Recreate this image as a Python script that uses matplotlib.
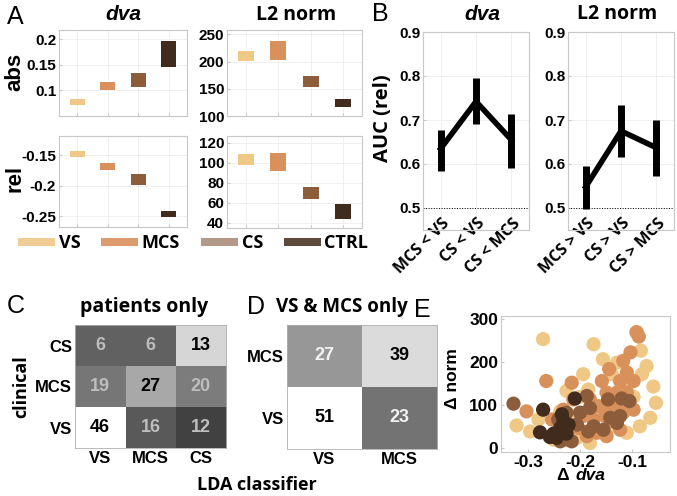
import numpy as np
import matplotlib
matplotlib.use('Agg')
import matplotlib.pyplot as plt
from matplotlib.lines import Line2D
from matplotlib.ticker import FormatStrFormatter
from matplotlib.transforms import ScaledTranslation

W, H = 677, 496
OPEN = ['Open Sans', 'DejaVu Sans']

groups        = ['VS', 'MCS', 'CS', 'CTRL']
group_colors  = ['#F0C885', '#D9915B', '#8D5C3B', '#402B1D']
legend_colors = ['#F1CD95', '#DE9B6D', '#B39A88', '#5F4B3E']

# panel A (mean +/- sem per group)
dva_abs     = [0.078, 0.108, 0.120, 0.171]
dva_abs_err = [0.006, 0.008, 0.014, 0.025]
l2_abs      = [210, 219.5, 163, 123.5]
l2_abs_err  = [9, 17.5, 10, 7.5]
dva_rel     = [-0.147, -0.168, -0.189, -0.246]
dva_rel_err = [0.005, 0.006, 0.009, 0.005]
l2_rel      = [103.5, 101, 70, 51.5]
l2_rel_err  = [5.5, 9, 6, 7.5]

# panel B (AUC with interval)
pairs_dva  = ['MCS < VS', 'CS < VS', 'CS < MCS']
auc_dva    = [0.635, 0.742, 0.655]
auc_dva_lo = [0.585, 0.690, 0.590]
auc_dva_hi = [0.678, 0.795, 0.713]
pairs_l2   = ['MCS > VS', 'CS > VS', 'CS > MCS']
auc_l2     = [0.548, 0.675, 0.637]
auc_l2_lo  = [0.497, 0.615, 0.572]
auc_l2_hi  = [0.595, 0.735, 0.700]

# panels C / D (rows = clinical, cols = LDA classifier)
labels3 = ['VS', 'MCS', 'CS']
conf_patients = [[46, 16, 12],
                 [19, 27, 20],
                 [6, 6, 13]]
labels2 = ['VS', 'MCS']
conf_vs_mcs = [[51, 23],
               [27, 39]]

# panel E (delta dva, delta norm)
vs_x = [-0.271, -0.174, -0.092, -0.083, -0.156, -0.129, -0.139, -0.194, -0.081, -0.059,
        -0.054, -0.065, -0.085, -0.322, -0.296, -0.280, -0.226, -0.184, -0.200, -0.238,
        -0.181, -0.110, -0.149, -0.123, -0.097, -0.110, -0.216, -0.162, -0.206, -0.251, -0.072]
vs_y = [254, 242, 270, 227, 207, 199, 172, 172, 172, 143,
        105, 70, 50, 52, 38, 66, 133, 136, 119, 85,
        11, 35, 38, 89, 119, 143, 74, 97, 23, 19, 191]
mcs_x = [-0.265, -0.216, -0.303, -0.091, -0.087, -0.103, -0.117, -0.110, -0.144, -0.158,
         -0.123, -0.097, -0.181, -0.149, -0.129, -0.110, -0.165, -0.142, -0.117, -0.097,
         -0.174, -0.136, -0.123, -0.149, -0.187, -0.232, -0.254, -0.213, -0.194, -0.168,
         -0.226, -0.203, -0.133, -0.152]
mcs_y = [156, 152, 85, 270, 260, 223, 203, 176, 184, 156,
         156, 156, 113, 129, 129, 129, 97, 89, 82, 89,
         66, 62, 42, 27, 27, 89, 66, 113, 74, 35,
         19, 46, 105, 74]
cs_x = [-0.328, -0.242, -0.226, -0.200, -0.181, -0.174, -0.184, -0.216, -0.155, -0.146,
        -0.123, -0.142, -0.120, -0.105, -0.187, -0.238, -0.206, -0.129]
cs_y = [103, 66, 82, 82, 93, 50, 38, 15, 42, 113,
        74, 70, 115, 109, 121, 15, 54, 58]
ctrl_x = [-0.271, -0.210, -0.235, -0.232, -0.238, -0.222, -0.277, -0.251, -0.245, -0.226,
          -0.258, -0.235]
ctrl_y = [89, 115, 78, 62, 46, 54, 36, 33, 23, 33, 25, 38]

plt.rcParams['font.family'] = ['Liberation Sans', 'DejaVu Sans']
plt.rcParams['font.weight'] = 'bold'

fig = plt.figure(figsize=(W / 100, H / 100), dpi=100)


def box(l, t, r, b):
    return [l / W, 1 - b / H, (r - l) / W, (b - t) / H]


def ftext(x, y, s, **kw):
    kw.setdefault('ha', 'center')
    kw.setdefault('va', 'center')
    fig.text(x / W, 1 - y / H, s, **kw)


def light_axes(ax, size=10.5):
    for s in ax.spines.values():
        s.set_color('#c8c8c8')
        s.set_linewidth(0.8)
    ax.grid(True, color='#ececec', lw=0.6)
    ax.set_axisbelow(True)
    ax.tick_params(direction='in', length=2, color='#c8c8c8', labelsize=size, pad=2)


# ---- A ----
x4 = np.arange(1, 5)
a_panels = [
    (box(59, 30, 187, 116), dva_abs, dva_abs_err, (0.05, 0.218), [0.1, 0.15, 0.2]),
    (box(227, 30, 362, 116), l2_abs, l2_abs_err, (100, 258), [100, 150, 200, 250]),
    (box(59, 136, 187, 227), dva_rel, dva_rel_err, (-0.268, -0.118), [-0.25, -0.2, -0.15]),
    (box(227, 136, 362, 228), l2_rel, l2_rel_err, (35, 127), [40, 60, 80, 100, 120]),
]
for rect, m, e, ylim, yt in a_panels:
    ax = fig.add_axes(rect)
    light_axes(ax, 11)
    m = np.array(m)
    e = np.array(e)
    ax.bar(x4, 2 * e, bottom=m - e, width=0.5, color=group_colors)
    ax.set_xlim(0.4, 4.6)
    ax.set_ylim(ylim)
    ax.set_xticks(x4)
    ax.set_xticklabels([])
    ax.set_yticks(yt)
    ax.yaxis.set_major_formatter(FormatStrFormatter('%g'))

ftext(7, 17, 'A', ha='left', fontsize=18, weight='normal')
ftext(123, 15, 'dva', fontsize=15, style='italic')
ftext(296, 15, 'L2 norm', fontsize=14, family=OPEN)
ftext(15, 72, 'abs', fontsize=16, rotation=90)
ftext(15, 178, 'rel', fontsize=16, rotation=90)

handles = [Line2D([], [], color=c, lw=5.8, solid_capstyle='butt') for c in legend_colors]
fig.legend(handles, groups, loc='center left', bbox_to_anchor=(18 / W, 1 - 243 / H),
           ncol=4, frameon=False, borderpad=0, borderaxespad=0,
           handlelength=2.05, handletextpad=0.2, columnspacing=1.15,
           prop={'family': OPEN, 'weight': 'bold', 'size': 13})

# ---- B ----
x3 = np.arange(1, 4)
b_panels = [
    (box(423, 32, 529, 230), pairs_dva, auc_dva, auc_dva_lo, auc_dva_hi),
    (box(568, 32, 674, 230), pairs_l2, auc_l2, auc_l2_lo, auc_l2_hi),
]
for rect, pairs, auc, lo, hi in b_panels:
    ax = fig.add_axes(rect)
    light_axes(ax, 11)
    ax.axhline(0.5, color='k', lw=0.7, ls=':')
    auc = np.array(auc)
    ax.errorbar(x3, auc, yerr=[auc - np.array(lo), np.array(hi) - auc],
                color='k', lw=4, elinewidth=5, capsize=0)
    ax.set_xlim(0.5, 3.5)
    ax.set_ylim(0.45, 0.9)
    ax.set_yticks([0.5, 0.6, 0.7, 0.8, 0.9])
    ax.yaxis.set_major_formatter(FormatStrFormatter('%g'))
    ax.set_xticks(x3)
    ax.set_xticklabels(pairs, rotation=45, ha='right', va='center',
                       rotation_mode='anchor', fontsize=11.5, family=OPEN)
    ax.tick_params(axis='x', length=0, pad=0)
    off = ScaledTranslation(0.07, 0.09, fig.dpi_scale_trans)
    for lab in ax.get_xticklabels():
        lab.set_transform(lab.get_transform() + off)

ftext(372, 14, 'B', ha='left', fontsize=18, weight='normal')
ftext(482, 14, 'dva', fontsize=15, style='italic')
ftext(617, 14, 'L2 norm', fontsize=14, family=OPEN)
ftext(383, 118, 'AUC (rel)', fontsize=14.5, rotation=90, family=OPEN)

# ---- C / D ----
def confusion(rect, counts, labels, off_color):
    ax = fig.add_axes(rect)
    counts = np.array(counts)
    frac = counts / counts.sum(axis=1, keepdims=True)
    ax.imshow(frac, cmap='gray', vmin=0, vmax=frac.max(), origin='lower', aspect='auto')
    n = len(labels)
    for i in range(n):
        for j in range(n):
            ax.text(j, i, str(counts[i, j]), ha='center', va='center', fontsize=13,
                    color='k' if i == j else off_color)
    ax.set_xticks(range(n))
    ax.set_xticklabels(labels)
    ax.set_yticks(range(n))
    ax.set_yticklabels(labels)
    ax.tick_params(length=0, labelsize=12, pad=2)
    for s in ax.spines.values():
        s.set_color('#b0b0b0')
        s.set_linewidth(0.6)
    return ax


confusion(box(75, 325, 226, 448), conf_patients, labels3, '#bdbdbd')
confusion(box(287, 325, 437, 449), conf_vs_mcs, labels2, '#f2f2f2')

ftext(7, 306, 'C', ha='left', fontsize=18, weight='normal')
ftext(144, 307, 'patients only', fontsize=14, family=OPEN)
ftext(21, 387, 'clinical', fontsize=13, rotation=90, family=OPEN)
ftext(257, 485, 'LDA classifier', fontsize=13, family=OPEN)
ftext(247, 307, 'D', ha='left', fontsize=18, weight='normal')
ftext(342, 307, 'VS & MCS only', fontsize=13.5, family=OPEN)

# ---- E ----
ax = fig.add_axes(box(501, 316, 670, 452))
for s in ax.spines.values():
    s.set_color('#c8c8c8')
    s.set_linewidth(0.8)
ax.tick_params(direction='in', length=2, color='#c8c8c8', labelsize=12.5, pad=2)
for xs, ys, c in [(vs_x, vs_y, group_colors[0]), (mcs_x, mcs_y, group_colors[1]),
                  (cs_x, cs_y, group_colors[2]), (ctrl_x, ctrl_y, group_colors[3])]:
    ax.scatter(xs, ys, s=105, color=c, edgecolors='none')
ax.set_xlim(-0.352, -0.027)
ax.set_ylim(-10, 308)
ax.set_xticks([-0.3, -0.2, -0.1])
ax.set_yticks([0, 100, 200, 300])
ax.xaxis.set_major_formatter(FormatStrFormatter('%g'))

ftext(414, 310, 'E', ha='left', fontsize=18, weight='normal')
ftext(453, 379, 'Δ norm', fontsize=12.5, rotation=90)
ftext(563, 476, 'Δ', fontsize=12.5)
ftext(590, 476, 'dva', fontsize=12.5, style='italic')

fig.savefig('out.png', dpi=100)
